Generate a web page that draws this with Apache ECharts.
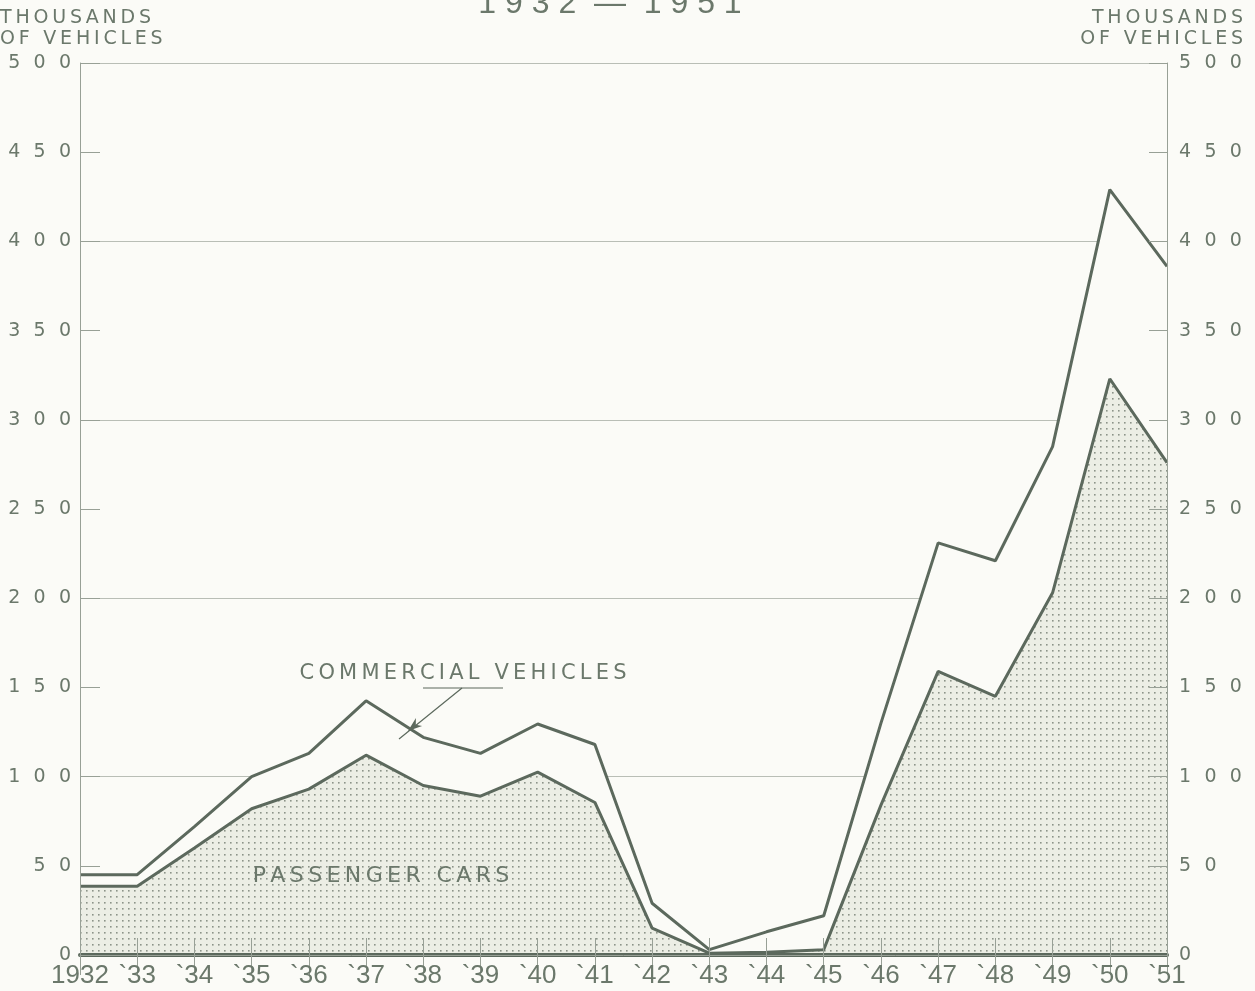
<!DOCTYPE html>
<html>
<head>
<meta charset="utf-8">
<script src="https://cdn.jsdelivr.net/npm/echarts@6/dist/echarts.min.js"></script>
<style>
html,body{margin:0;padding:0;background:#fbfbf7;}
#chart{width:1255px;height:991px;}
</style>
</head>
<body>
<div id="chart"></div>
<script>
// ---- data ----
const years = ['1932','1933','1934','1935','1936','1937','1938','1939','1940','1941',
               '1942','1943','1944','1945','1946','1947','1948','1949','1950','1951'];
const xTickLabels = ['1932','`33','`34','`35','`36','`37','`38','`39','`40','`41',
                     '`42','`43','`44','`45','`46','`47','`48','`49','`50','`51'];
// total production (passenger cars + commercial vehicles), thousands
const totalVehicles = [45, 45, 72, 100, 113, 142.5, 122, 113, 129.5, 118,
                       29, 3, 13, 22, 130, 231, 221, 285, 429, 386];
// passenger cars, thousands
const passengerCars = [38.5, 38.5, 60, 82, 93, 112, 95, 89, 102.5, 85.5,
                       15, 1, 1.5, 3, 84, 159, 145, 203, 323, 276];
const yTicks = [0, 50, 100, 150, 200, 250, 300, 350, 400, 450, 500];

// ---- style ----
const BG = '#fbfbf7';
const TEXT = '#6b786b';
const LINE = '#5c695d';
const GRID = '#b9beb6';
const AXIS = '#98a096';

function spaced(s, sep) { return s.split('').join(sep); }

// stipple pattern for passenger-car area
const pat = document.createElement('canvas');
pat.width = 6; pat.height = 6;
const pc = pat.getContext('2d');
pc.fillStyle = '#eceee5'; pc.fillRect(0, 0, 6, 6);
pc.fillStyle = '#8c9489'; pc.fillRect(2, 2, 1.6, 1.6);

const chart = echarts.init(document.getElementById('chart'), null, {renderer: 'canvas'});

const yLabelFmt = v => spaced(String(v), '\u2002\u2009');

const option = {
  backgroundColor: BG,
  animation: false,
  grid: {left: 80, right: 88, top: 63, bottom: 36, containLabel: false},
  xAxis: [
    {
      type: 'category', data: years, boundaryGap: false, position: 'bottom', z: 5,
      axisLine: {show: true, lineStyle: {color: LINE, width: 4}},
      axisTick: {show: true, inside: true, length: 17, lineStyle: {color: AXIS, width: 1}},
      axisLabel: {
        interval: 0, hideOverlap: false,
        margin: 8, color: TEXT, fontFamily: 'Liberation Sans', fontSize: 26,
        formatter: (v, i) => xTickLabels[i]
      },
      splitLine: {show: false}
    },
    {
      type: 'category', data: years, boundaryGap: false, position: 'top', z: 5,
      axisLine: {show: true, lineStyle: {color: AXIS, width: 1}},
      axisTick: {show: true, inside: true, interval: 0, length: 20, lineStyle: {color: AXIS, width: 1}},
      axisLabel: {show: false},
      splitLine: {show: false}
    }
  ],
  yAxis: [
    {
      type: 'value', min: 0, max: 500, interval: 50, position: 'left', z: 5,
      axisLine: {show: true, lineStyle: {color: AXIS, width: 1}},
      axisTick: {show: true, inside: true, length: 20, lineStyle: {color: AXIS, width: 1}},
      axisLabel: {margin: 9, color: TEXT, fontFamily: 'DejaVu Sans', fontSize: 19, formatter: yLabelFmt},
      splitLine: {show: false}
    },
    {
      type: 'value', min: 0, max: 500, interval: 50, position: 'right', z: 5,
      axisLine: {show: true, lineStyle: {color: AXIS, width: 1}},
      axisTick: {show: true, inside: true, length: 18, lineStyle: {color: AXIS, width: 1}},
      axisLabel: {margin: 12, color: TEXT, fontFamily: 'DejaVu Sans', fontSize: 19, formatter: yLabelFmt},
      splitLine: {show: false}
    },
    {
      type: 'value', min: 0, max: 500, interval: 100, position: 'left', z: 0,
      axisLine: {show: false}, axisTick: {show: false}, axisLabel: {show: false},
      splitLine: {show: true, lineStyle: {color: GRID, width: 1.2}}
    }
  ],
  series: [
    {
      name: 'Commercial Vehicles (total)', type: 'line', data: totalVehicles,
      xAxisIndex: 0, yAxisIndex: 0, symbol: 'none', z: 2,
      lineStyle: {color: LINE, width: 3},
      areaStyle: {color: BG, opacity: 1}
    },
    {
      name: 'Passenger Cars', type: 'line', data: passengerCars,
      xAxisIndex: 0, yAxisIndex: 0, symbol: 'none', z: 3,
      lineStyle: {color: LINE, width: 3},
      areaStyle: {color: {image: pat, repeat: 'repeat'}, opacity: 1}
    }
  ],
  graphic: [
    {type: 'text', left: 0, top: 9, z: 10,
     style: {text: spaced('THOUSANDS', '\u2009'), fill: TEXT, font: '19px "DejaVu Sans"'}},
    {type: 'text', left: 0, top: 30, z: 10,
     style: {text: spaced('OF VEHICLES', '\u2009'), fill: TEXT, font: '19px "DejaVu Sans"'}},
    {type: 'text', right: 12, top: 9, z: 10,
     style: {text: spaced('THOUSANDS', '\u2009'), fill: TEXT, font: '19px "DejaVu Sans"'}},
    {type: 'text', right: 12, top: 30, z: 10,
     style: {text: spaced('OF VEHICLES', '\u2009'), fill: TEXT, font: '19px "DejaVu Sans"'}},
    {type: 'text', x: 610, y: 4, z: 10,
     style: {text: '1 9 3 2  \u2014  1 9 5 1', fill: TEXT, font: '32px "Liberation Sans"',
             align: 'center', verticalAlign: 'middle'}},
    {type: 'text', x: 463, y: 674, z: 10,
     style: {text: spaced('COMMERCIAL VEHICLES', '\u2009'), fill: TEXT, font: '21px "DejaVu Sans"',
             align: 'center', verticalAlign: 'middle'}},
    {type: 'text', x: 381, y: 876, z: 10,
     style: {text: spaced('PASSENGER CARS', '\u2009'), fill: TEXT, font: '22px "DejaVu Sans"',
             align: 'center', verticalAlign: 'middle'}},
    {type: 'line', z: 10, shape: {x1: 423, y1: 688, x2: 503, y2: 688},
     style: {stroke: LINE, lineWidth: 1.2}},
    {type: 'line', z: 10, shape: {x1: 462, y1: 688, x2: 399, y2: 739},
     style: {stroke: LINE, lineWidth: 1.2}},
    {type: 'polygon', z: 10,
     shape: {points: [[408, 731], [422.1, 725.9], [415.8, 724.7], [415.9, 718.1]]},
     style: {fill: LINE}}
  ]
};
chart.setOption(option);
</script>
</body>
</html>
